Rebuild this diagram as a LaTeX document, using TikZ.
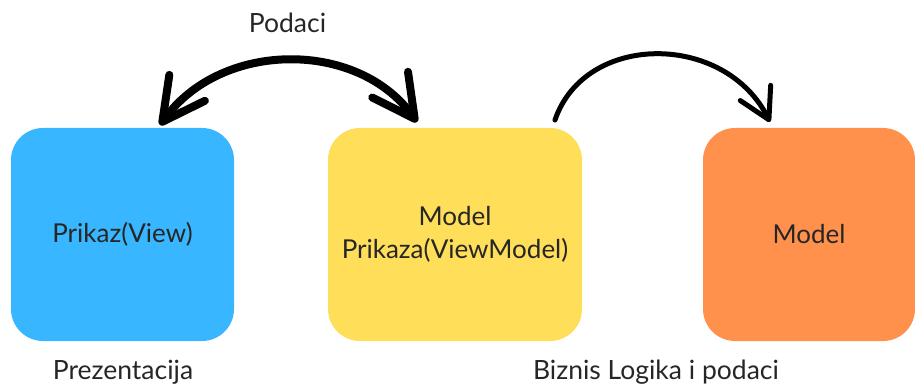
\documentclass[tikz,border=0pt]{standalone}
\usepackage{fontspec}
\setmainfont{Lato}
\usetikzlibrary{arrows.meta}
\definecolor{cblue}{HTML}{38B6FF}
\definecolor{cyellow}{HTML}{FFDE59}
\definecolor{corange}{HTML}{FF914D}
\begin{document}
\begin{tikzpicture}[x=1pt,y=-1pt,
  box/.style={rounded corners=32pt, inner sep=0pt, minimum height=213pt,
    font=\fontsize{26}{33}\selectfont, align=center, text=black!85},
  lbl/.style={inner sep=0pt, font=\fontsize{26.5}{30}\selectfont, anchor=base, text=black!85},
  bigarrow/.style={line width=8pt, line cap=round,
    {Straight Barb[length=42pt,width=44pt,round]}-{Straight Barb[length=42pt,width=44pt,round]}},
  smallarrow/.style={line width=5pt, line cap=round,
    -{Straight Barb[length=30pt,width=34pt,round]}}]
\useasboundingbox (0,0) rectangle (915,385);
\node[box, fill=cblue, minimum width=223pt] (view) at (122.5,234.5) {Prikaz(View)};
\node[box, fill=cyellow, minimum width=254pt] (vm) at (455,234.5) {Model\\Prikaza(ViewModel)};
\node[box, fill=corange, minimum width=212pt] (model) at (809,234.5) {Model};
\node[lbl] (podaci) at (287.5,33) {Podaci};
\node[lbl] (prez) at (123,379) {Prezentacija};
\node[lbl] (biz) at (656,379) {Biznis Logika i podaci};
\coordinate (a1) at (160,125);
\coordinate (a2) at (417,122);
\coordinate (b1) at (555,120);
\coordinate (b2) at (770,122);
\draw[bigarrow] (a1) .. controls (222,40) and (358,40) .. (a2);
\draw[smallarrow] (b1) .. controls (585,32) and (725,32) .. (b2);
\end{tikzpicture}
\end{document}
